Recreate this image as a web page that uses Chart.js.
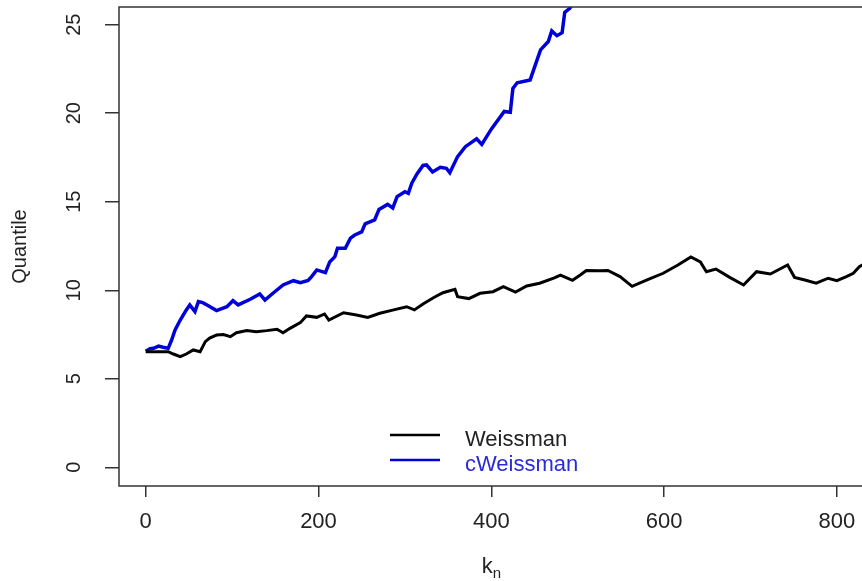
<!DOCTYPE html>
<html>
<head>
<meta charset="utf-8">
<script src="https://cdn.jsdelivr.net/npm/chart.js@4.4.1/dist/chart.umd.min.js"></script>
<style>
  html, body { margin: 0; padding: 0; background: #fff; overflow: hidden; }
  #wrap { width: 866px; height: 581px; }
</style>
</head>
<body>
<div id="wrap"><canvas id="chart"></canvas></div>
<script>
// k values and estimated quantiles
var kWeissman = [0, 26, 32, 40, 47, 55, 63, 69, 74, 82, 90, 98, 105, 117, 128, 140, 152, 159, 167, 179,
  186, 198, 207, 212, 229, 244, 257, 271, 287, 302, 311, 321, 333, 344, 358, 361, 374, 387, 402, 414,
  428, 441, 456, 473, 480, 494, 503, 510, 525, 535, 549, 563, 581, 599, 616, 631, 642, 649, 660, 676,
  692, 707, 723, 743, 751, 763, 776, 790, 800, 811, 819, 826, 832];
var qWeissman = [6.53, 6.53, 6.40, 6.25, 6.40, 6.63, 6.53, 7.10, 7.30, 7.47, 7.50, 7.38, 7.60, 7.72, 7.66, 7.72, 7.80, 7.60, 7.85, 8.17,
  8.55, 8.47, 8.66, 8.32, 8.73, 8.60, 8.47, 8.70, 8.89, 9.07, 8.89, 9.23, 9.58, 9.86, 10.05, 9.64, 9.53, 9.83, 9.92, 10.20,
  9.90, 10.24, 10.40, 10.70, 10.86, 10.56, 10.86, 11.12, 11.10, 11.12, 10.77, 10.22, 10.60, 10.96, 11.43, 11.88, 11.60, 11.05, 11.20, 10.73,
  10.30, 11.05, 10.92, 11.43, 10.73, 10.58, 10.40, 10.68, 10.54, 10.77, 10.96, 11.33, 11.50];

var kCWeissman = [0, 5, 9, 15, 20, 26, 30, 34, 40, 47, 51, 57, 61, 66, 71, 82, 94, 101, 107, 121,
  132, 138, 148, 159, 171, 179, 188, 192, 198, 208, 213, 219, 222, 231, 237, 242, 250, 254, 265, 270,
  280, 286, 291, 300, 304, 308, 314, 321, 325, 332, 341, 348, 352, 361, 370, 383, 389, 400, 415, 422,
  425, 430, 445, 451, 457, 466, 470, 476, 482, 485, 491, 497];
var qCWeissman = [6.55, 6.70, 6.72, 6.85, 6.78, 6.72, 7.19, 7.76, 8.32, 8.89, 9.17, 8.79, 9.36, 9.30, 9.17, 8.85, 9.07, 9.41, 9.17, 9.49,
  9.79, 9.45, 9.86, 10.30, 10.54, 10.43, 10.55, 10.77, 11.15, 11.00, 11.60, 11.90, 12.37, 12.37, 12.94, 13.12, 13.30, 13.75, 13.97, 14.56,
  14.85, 14.65, 15.29, 15.57, 15.48, 16.05, 16.57, 17.05, 17.08, 16.68, 16.95, 16.89, 16.64, 17.55, 18.11, 18.55, 18.24, 19.10, 20.10, 20.05,
  21.40, 21.72, 21.88, 22.73, 23.58, 24.05, 24.65, 24.38, 24.55, 25.70, 25.93, 26.60];

var xTicks = [0, 200, 400, 600, 800];
var yTicks = [0, 5, 10, 15, 20, 25];
var seriesNames = ['Weissman', 'cWeissman'];
var seriesColors = ['#000000', '#0000d8'];

function toPoints(ks, qs) {
  return ks.map(function (k, i) { return { x: k, y: qs[i] }; });
}

var axisColor = '#333333';
var fontFam = '"Liberation Sans", Arial, sans-serif';

// box around the plot region, legend and the x label (R style)
var rDecor = {
  id: 'rDecor',
  afterDraw: function (chart) {
    var ctx = chart.ctx;
    var a = chart.chartArea;
    ctx.save();
    ctx.strokeStyle = axisColor;
    ctx.lineWidth = 1.5;
    ctx.strokeRect(a.left, a.top, a.right - a.left, a.bottom - a.top);

    // legend
    var lx = 390, ly = 435, gap = 25;
    ctx.lineWidth = 2.5;
    ctx.font = '22px ' + fontFam;
    ctx.textBaseline = 'alphabetic';
    ctx.textAlign = 'left';
    for (var i = 0; i < seriesNames.length; i++) {
      var y = ly + i * gap;
      ctx.strokeStyle = seriesColors[i];
      ctx.beginPath();
      ctx.moveTo(lx, y);
      ctx.lineTo(lx + 50, y);
      ctx.stroke();
      ctx.fillStyle = i === 0 ? '#222222' : '#2a2ad8';
      ctx.fillText(seriesNames[i], 465, y + 11);
    }

    // x label: k with subscript n
    var cx = (a.left + a.right) / 2;
    ctx.fillStyle = '#222222';
    ctx.font = '22px ' + fontFam;
    var wk = ctx.measureText('k').width;
    ctx.font = '15px ' + fontFam;
    var wn = ctx.measureText('n').width;
    var x0 = cx - (wk + wn) / 2;
    ctx.font = '22px ' + fontFam;
    ctx.fillText('k', x0, 573);
    ctx.font = '15px ' + fontFam;
    ctx.fillText('n', x0 + wk, 578);
    ctx.restore();
  }
};

new Chart(document.getElementById('chart'), {
  type: 'line',
  data: {
    datasets: [{
      label: seriesNames[0],
      data: toPoints(kWeissman, qWeissman),
      borderColor: seriesColors[0],
      borderWidth: 3,
      borderJoinStyle: 'miter',
      pointRadius: 0,
      tension: 0,
      clip: 0
    }, {
      label: seriesNames[1],
      data: toPoints(kCWeissman, qCWeissman),
      borderColor: seriesColors[1],
      borderWidth: 3.5,
      borderJoinStyle: 'miter',
      pointRadius: 0,
      tension: 0,
      clip: 0
    }]
  },
  options: {
    responsive: true,
    maintainAspectRatio: false,
    animation: false,
    devicePixelRatio: 1,
    layout: { padding: { top: 7, right: 2, left: 0, bottom: 0 } },
    plugins: { legend: { display: false }, tooltip: { enabled: false } },
    scales: {
      x: {
        type: 'linear',
        min: -30.9,
        max: 831.4,
        afterBuildTicks: function (s) { s.ticks = xTicks.map(function (v) { return { value: v }; }); },
        afterFit: function (s) { s.height = 95; s.paddingLeft = 0; s.paddingRight = 0; },
        border: { display: false },
        grid: { drawOnChartArea: false, drawTicks: true, tickLength: 11, color: axisColor, lineWidth: 1.5 },
        ticks: { color: '#222222', font: { family: fontFam, size: 22 }, padding: 12, maxRotation: 0 }
      },
      y: {
        type: 'linear',
        min: -1.056,
        max: 26.0,
        afterBuildTicks: function (s) { s.ticks = yTicks.map(function (v) { return { value: v }; }); },
        afterFit: function (s) { s.width = 119; s.paddingTop = 0; s.paddingBottom = 0; },
        border: { display: false },
        grid: { drawOnChartArea: false, drawTicks: true, tickLength: 14, color: axisColor, lineWidth: 1.5 },
        ticks: { color: '#222222', font: { family: fontFam, size: 20 }, padding: 19, minRotation: 90, maxRotation: 90, crossAlign: 'center' },
        title: { display: true, text: 'Quantile', color: '#222222', font: { family: fontFam, size: 20 }, padding: { top: 8, bottom: 0 } }
      }
    }
  },
  plugins: [rDecor]
});
</script>
</body>
</html>
